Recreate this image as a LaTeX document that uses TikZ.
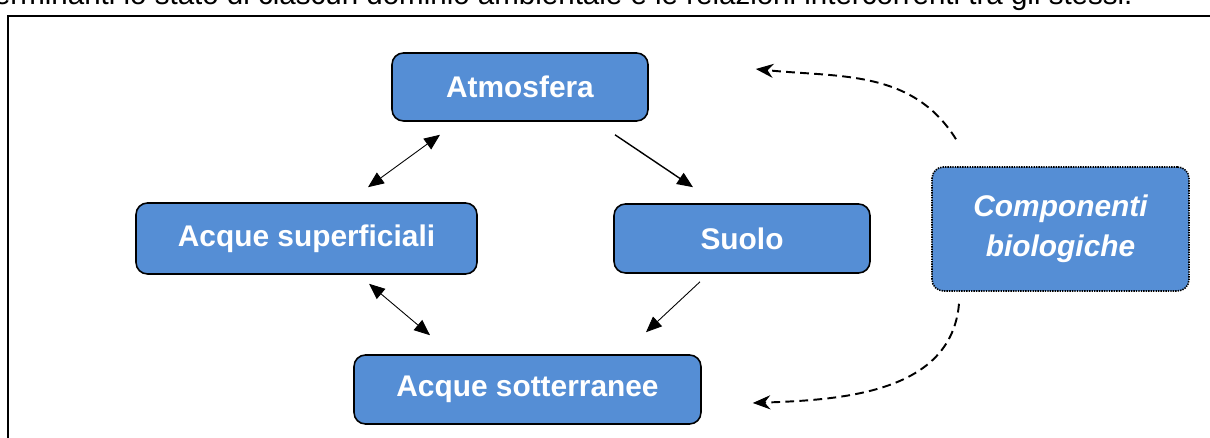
\documentclass[tikz,border=0pt]{standalone}
\usepackage{fontspec}
\setmainfont{Liberation Sans}
\usetikzlibrary{arrows.meta}
\definecolor{boxblue}{RGB}{85,142,213}

\begin{document}
\begin{tikzpicture}[x=0.02cm, y=0.02cm,
  box/.style={rectangle, rounded corners=6.5pt, draw=black, line width=0.9pt, fill=boxblue, text=white, inner sep=0pt, font=\fontsize{17}{20}\selectfont\bfseries},
  link/.style={line width=0.5pt, -{Triangle[length=9pt, width=7.5pt]}},
  twoway/.style={line width=0.5pt, {Triangle[length=9pt, width=7.5pt]}-{Triangle[length=9pt, width=7.5pt]}},
  influence/.style={line width=1.1pt, dash pattern=on 5pt off 3pt, -{Stealth[length=10pt, width=8pt]}}]

\useasboundingbox (0, 0) rectangle (1210, 438);
\clip (0, 0) rectangle (1210, 438);

\node[anchor=base east, inner sep=0pt, font=\fontsize{16.8}{20}\selectfont] (caption) at (1133, 433) {determinanti lo stato di ciascun dominio ambientale e le relazioni intercorrenti tra gli stessi.};
\draw[line width=0.9pt] (8, -10) -- (8, 422) -- (1230, 422);

\node[box, minimum width=5.12cm, minimum height=1.36cm] (atm) at (520, 351) {Atmosfera};
\node[box, minimum width=6.82cm, minimum height=1.42cm] (acqsup) at (306.5, 199.5) {Acque superficiali};
\node[box, minimum width=5.12cm, minimum height=1.38cm] (suolo) at (742, 199.5) {Suolo};
\node[box, minimum width=6.94cm, minimum height=1.38cm] (acqsott) at (527.5, 48.5) {Acque sotterranee};
\node[box, dash pattern=on 0.8pt off 0.6pt, minimum width=5.14cm, minimum height=2.48cm, align=center, font=\fontsize{17}{23}\selectfont\bfseries\itshape] (bio) at (1060.5, 209) {Componenti\\biologiche};

\draw[twoway] ([shift={(61.5, 15)}]acqsup.north) -- ([shift={(-80, -13)}]atm.south);
\draw[link, line width=0.8pt] ([shift={(95, -13)}]atm.south) -- ([shift={(-49, 16)}]suolo.north);
\draw[link] ([shift={(-42, -8)}]suolo.south) -- ([shift={(118.5, 22)}]acqsott.north);
\draw[twoway] ([shift={(62.5, -9)}]acqsup.south) -- ([shift={(-97.5, 19)}]acqsott.north);

\coordinate (toatm) at ([shift={(107, 18)}]atm.east);
\coordinate (tosott) at ([shift={(51, -13.5)}]acqsott.east);
\draw[influence] ([shift={(-104.5, 27)}]bio.north) to[out=122, in=-6] (toatm);
\draw[influence] ([shift={(-101.5, -12)}]bio.south) to[out=-95, in=2] (tosott);

\end{tikzpicture}
\end{document}
